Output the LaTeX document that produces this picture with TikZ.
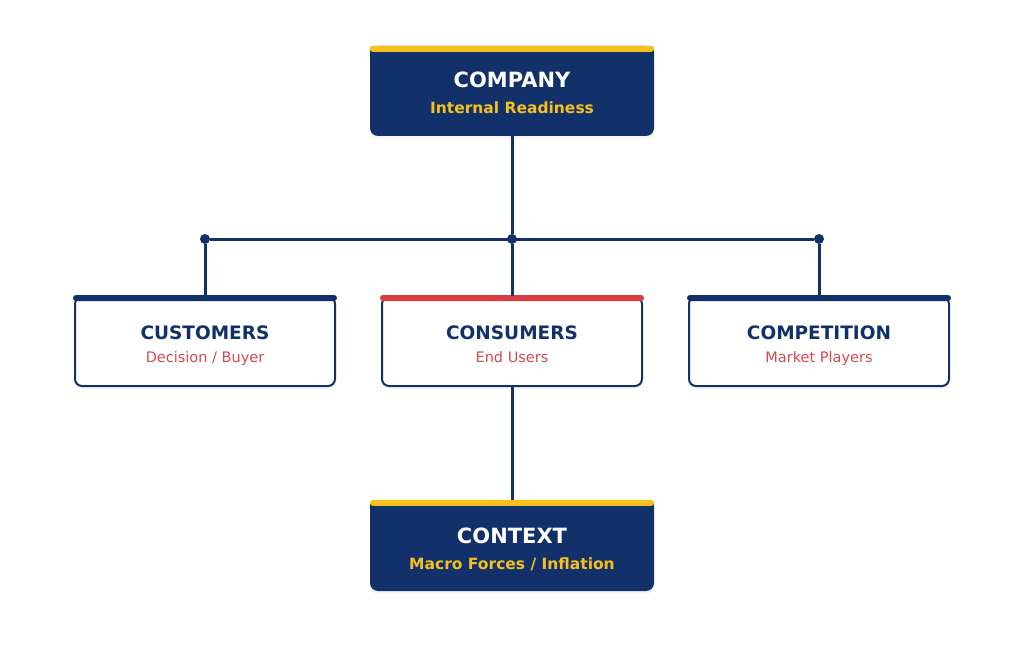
\documentclass[tikz,border=0pt]{standalone}
\usepackage{fontspec}
\setmainfont{DejaVu Sans}
\usetikzlibrary{shadows}
\definecolor{navy}{HTML}{12306A}
\definecolor{gold}{HTML}{F6C11C}
\definecolor{brick}{HTML}{D93D42}
\definecolor{rosetext}{HTML}{D34A4E}

\begin{document}
\begin{tikzpicture}[x=1pt,y=-1pt,inner sep=0pt,
  darkbox/.style={rectangle,rounded corners=8pt,fill=navy,minimum width=284pt,
    drop shadow={shadow xshift=0pt,shadow yshift=-3pt,opacity=0.07,fill=gray}},
  lightbox/.style={rectangle,rounded corners=7pt,draw=navy,line width=2pt,fill=white,
    minimum width=260pt,minimum height=89pt,
    drop shadow={shadow xshift=0pt,shadow yshift=-3pt,opacity=0.07,fill=gray}},
  bar/.style={rounded corners=3pt},
  bigtitle/.style={anchor=base,text=white,font=\bfseries\fontsize{21}{24}\selectfont},
  bigsub/.style={anchor=base,text=gold,font=\bfseries\fontsize{15.5}{18}\selectfont},
  title/.style={anchor=base,text=navy,font=\bfseries\fontsize{18.5}{21}\selectfont},
  sub/.style={anchor=base,text=rosetext,font=\fontsize{14.5}{17}\selectfont},
  dot/.style={circle,fill=navy,minimum size=10pt},
  wire/.style={draw=navy,line width=3pt}]
\useasboundingbox (0,0) rectangle (1024,660);

% boxes
\node (comp) at (512,91) [darkbox,minimum height=90pt] {};
\node (ctx) at (512,545.5) [darkbox,minimum height=91pt] {};
\node (cust) at (205,341.5) [lightbox] {};
\node (cons) at (512,341.5) [lightbox] {};
\node (compet) at (819,341.5) [lightbox] {};

% top bars
\fill[navy] ([yshift=-4pt]comp.north west) rectangle ([yshift=-12pt]comp.north east);
\fill[navy] ([yshift=-4pt]ctx.north west) rectangle ([yshift=-12pt]ctx.north east);
\fill[gold,bar] (comp.north west) rectangle ([yshift=-6pt]comp.north east);
\fill[gold,bar] (ctx.north west) rectangle ([yshift=-6pt]ctx.north east);
\fill[navy,bar] ([shift={(-1pt,1pt)}]cust.north west) rectangle ([shift={(1pt,-5pt)}]cust.north east);
\fill[brick,bar] ([shift={(-1pt,1pt)}]cons.north west) rectangle ([shift={(1pt,-5pt)}]cons.north east);
\fill[navy,bar] ([shift={(-1pt,1pt)}]compet.north west) rectangle ([shift={(1pt,-5pt)}]compet.north east);

% junctions
\node (jl) at (205,239) [dot] {};
\node (jm) at (512,239) [dot] {};
\node (jr) at (819,239) [dot] {};

\draw[wire] (comp) -- (jm);
\draw[wire] (jl) -- (jr);
\draw[wire] (jl) -- (cust);
\draw[wire] (jm) -- (cons);
\draw[wire] (jr) -- (compet);
\draw[wire] (cons) -- (ctx);

% texts
\node (compT) at (512,88) [bigtitle] {COMPANY};
\node (compS) at (512,114) [bigsub] {Internal Readiness};
\node (custT) at (205,339) [title] {CUSTOMERS};
\node (custS) at (205,362) [sub] {Decision / Buyer};
\node (consT) at (512,339) [title] {CONSUMERS};
\node (consS) at (512,362) [sub] {End Users};
\node (competT) at (819,339) [title] {COMPETITION};
\node (competS) at (819,362) [sub] {Market Players};
\node (ctxT) at (512,543) [bigtitle] {CONTEXT};
\node (ctxS) at (512,569) [bigsub] {Macro Forces / Inflation};
\end{tikzpicture}
\end{document}
